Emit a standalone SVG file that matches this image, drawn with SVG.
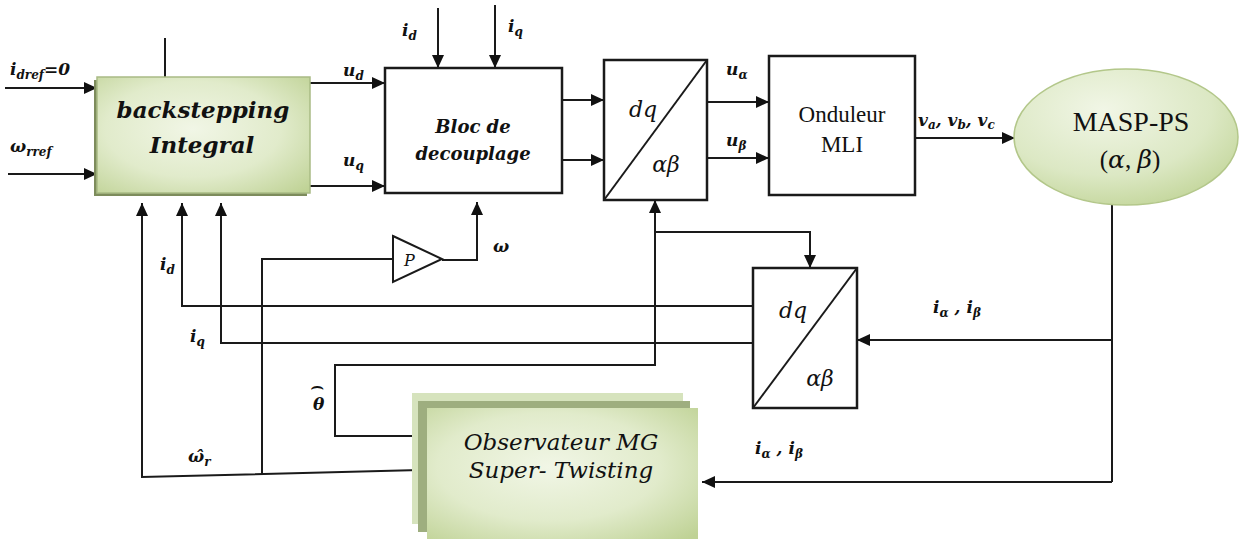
<svg xmlns="http://www.w3.org/2000/svg" width="1239" height="539" viewBox="0 0 1239 539">
<defs>
<marker id="ah" markerUnits="userSpaceOnUse" markerWidth="14" markerHeight="12" refX="13" refY="6" orient="auto">
<path d="M0,0 L13,6 L0,12 z" fill="#111"/>
</marker>
<radialGradient id="gBox" cx="0.45" cy="0.45" r="0.75">
<stop offset="0" stop-color="#f1f6e6"/>
<stop offset="0.55" stop-color="#e1ebcb"/>
<stop offset="1" stop-color="#bfd295"/>
</radialGradient>
<radialGradient id="gEll" cx="0.4" cy="0.3" r="0.8">
<stop offset="0" stop-color="#f1f6e6"/>
<stop offset="0.6" stop-color="#dce8c4"/>
<stop offset="1" stop-color="#bfd394"/>
</radialGradient>
<style>
text{font-family:"Liberation Serif","Times New Roman",serif}
.it{font-family:"DejaVu Serif",serif;font-style:italic}
.ln{fill:none;stroke:#1a1a1a;stroke-width:2}
.arr{fill:none;stroke:#1a1a1a;stroke-width:2;marker-end:url(#ah)}
.blk{fill:#fff;stroke:#1a1a1a;stroke-width:2.5}
.lbl{font-family:"DejaVu Serif",serif;font-weight:bold;font-style:italic;font-size:17px;fill:#111}
.sub{font-size:12px}
.ttl{fill:#111}
.hat{font-family:"DejaVu Sans",sans-serif;font-weight:normal;font-style:normal}
</style>
</defs>

<g id="connectors">
<path class="arr" d="M5,88 H97"/>
<path class="arr" d="M8,174 H97"/>
<path class="ln" d="M165,38 V77"/>
<path class="arr" d="M310,83 H385"/>
<path class="arr" d="M310,186 H385"/>
<path class="arr" d="M438,8 V68"/>
<path class="arr" d="M495,5 V68"/>
<path class="arr" d="M562,100 H604"/>
<path class="arr" d="M562,160 H604"/>
<path class="arr" d="M707,102 H769"/>
<path class="arr" d="M707,158 H769"/>
<path class="arr" d="M915,138 H1015"/>
<path class="ln" d="M1112,205 V482"/>
<path class="arr" d="M1112,340 H857"/>
<path class="arr" d="M1112,482 H702"/>
<path class="arr" d="M420,436 H335 V365 H655 V200"/>
<path class="arr" d="M655,232 H810 V268"/>
<path class="arr" d="M753,306 H182 V203"/>
<path class="arr" d="M753,343 H221 V203"/>
<path class="arr" d="M420,470 L142,477 V203"/>
<path class="ln" d="M262,475 V259 H393"/>
<path class="arr" d="M442,260 H477 V202"/>
</g>

<g id="backstepping">
<rect x="94" y="80" width="213" height="116" fill="#7d8c5c"/>
<rect x="97" y="77" width="213" height="116" fill="url(#gBox)" stroke="#a9bb85" stroke-width="1.5"/>
<text class="ttl it" x="203" y="118" text-anchor="middle" font-size="23" font-weight="bold">backstepping</text>
<text class="ttl it" x="202" y="153" text-anchor="middle" font-size="23" font-weight="bold">Integral</text>
</g>

<g id="bloc">
<rect class="blk" x="385" y="68" width="177" height="125"/>
<text class="ttl it" x="473" y="133" text-anchor="middle" font-size="18" font-weight="bold">Bloc de</text>
<text class="ttl it" x="473" y="160" text-anchor="middle" font-size="18" font-weight="bold">decouplage</text>
</g>

<g id="dq1">
<rect class="blk" x="604" y="60" width="103" height="140"/>
<path class="ln" d="M604,200 L707,60"/>
<text class="ttl it" x="643" y="117" text-anchor="middle" font-size="22">dq</text>
<text class="ttl it" x="666" y="172" text-anchor="middle" font-size="22">αβ</text>
</g>

<g id="onduleur">
<rect class="blk" x="769" y="56" width="146" height="139"/>
<text class="ttl" x="842" y="122" text-anchor="middle" font-size="23">Onduleur</text>
<text class="ttl" x="842" y="152" text-anchor="middle" font-size="23">MLI</text>
</g>

<g id="masp">
<ellipse cx="1126" cy="137" rx="112" ry="68" fill="url(#gEll)" stroke="#b3c78a" stroke-width="1.5"/>
<text class="ttl" x="1131" y="131" text-anchor="middle" font-size="28">MASP-PS</text>
<text class="ttl" x="1130" y="168" text-anchor="middle" font-size="25">(<tspan class="it">α</tspan>, <tspan class="it">β</tspan>)</text>
</g>

<g id="dq2">
<rect class="blk" x="753" y="268" width="104" height="140"/>
<path class="ln" d="M753,408 L857,268"/>
<text class="ttl it" x="793" y="318" text-anchor="middle" font-size="22">dq</text>
<text class="ttl it" x="820" y="386" text-anchor="middle" font-size="22">αβ</text>
</g>

<g id="gain">
<path d="M393,236 L442,259 L393,282 z" fill="#fff" stroke="#1a1a1a" stroke-width="2"/>
<text class="ttl it" x="404" y="266" font-size="16">P</text>
</g>

<g id="observateur">
<rect x="412" y="393" width="271" height="131" fill="#d6e3bd"/>
<rect x="418" y="401" width="272" height="131" fill="#9eae7f"/>
<rect x="427" y="408" width="271" height="131" fill="url(#gBox)"/>
<text class="ttl it" x="561" y="450" text-anchor="middle" font-size="23">Observateur MG</text>
<text class="ttl it" x="561" y="478" text-anchor="middle" font-size="23">Super- Twisting</text>
</g>

<g id="labels">
<text class="lbl" x="10" y="75">i<tspan class="sub" dy="4">dref</tspan><tspan dy="-4">=0</tspan></text>
<text class="lbl" x="10" y="152">ω<tspan class="sub" dy="4">rref</tspan></text>
<text class="lbl" x="343" y="76" font-weight="normal">u<tspan class="sub" dy="4">d</tspan></text>
<text class="lbl" x="343" y="166" font-weight="normal">u<tspan class="sub" dy="4">q</tspan></text>
<text class="lbl" x="402" y="36">i<tspan class="sub" dy="4">d</tspan></text>
<text class="lbl" x="508" y="32">i<tspan class="sub" dy="4">q</tspan></text>
<text class="lbl" x="726" y="75" font-weight="normal">u<tspan class="sub" dy="4">α</tspan></text>
<text class="lbl" x="726" y="146" font-weight="normal">u<tspan class="sub" dy="4">β</tspan></text>
<text class="lbl" x="918" y="126">v<tspan class="sub" dy="3">a</tspan><tspan dy="-3">, v</tspan><tspan class="sub" dy="3">b</tspan><tspan dy="-3">, v</tspan><tspan class="sub" dy="3">c</tspan></text>
<text class="lbl" x="933" y="313">i<tspan class="sub" dy="4">α</tspan><tspan dy="-4"> , i</tspan><tspan class="sub" dy="4">β</tspan></text>
<text class="lbl" x="755" y="454">i<tspan class="sub" dy="4">α</tspan><tspan dy="-4"> , i</tspan><tspan class="sub" dy="4">β</tspan></text>
<text class="lbl" x="160" y="270">i<tspan class="sub" dy="4">d</tspan></text>
<text class="lbl" x="190" y="342">i<tspan class="sub" dy="4">q</tspan></text>
<text class="lbl" x="493" y="252">ω</text>
<text class="lbl" x="313" y="410" font-size="21">θ<tspan class="hat" x="310" y="393" font-size="22">⌢</tspan></text>
<text class="lbl" x="188" y="462">ω̂<tspan class="sub" dy="4">r</tspan></text>
</g>
</svg>
